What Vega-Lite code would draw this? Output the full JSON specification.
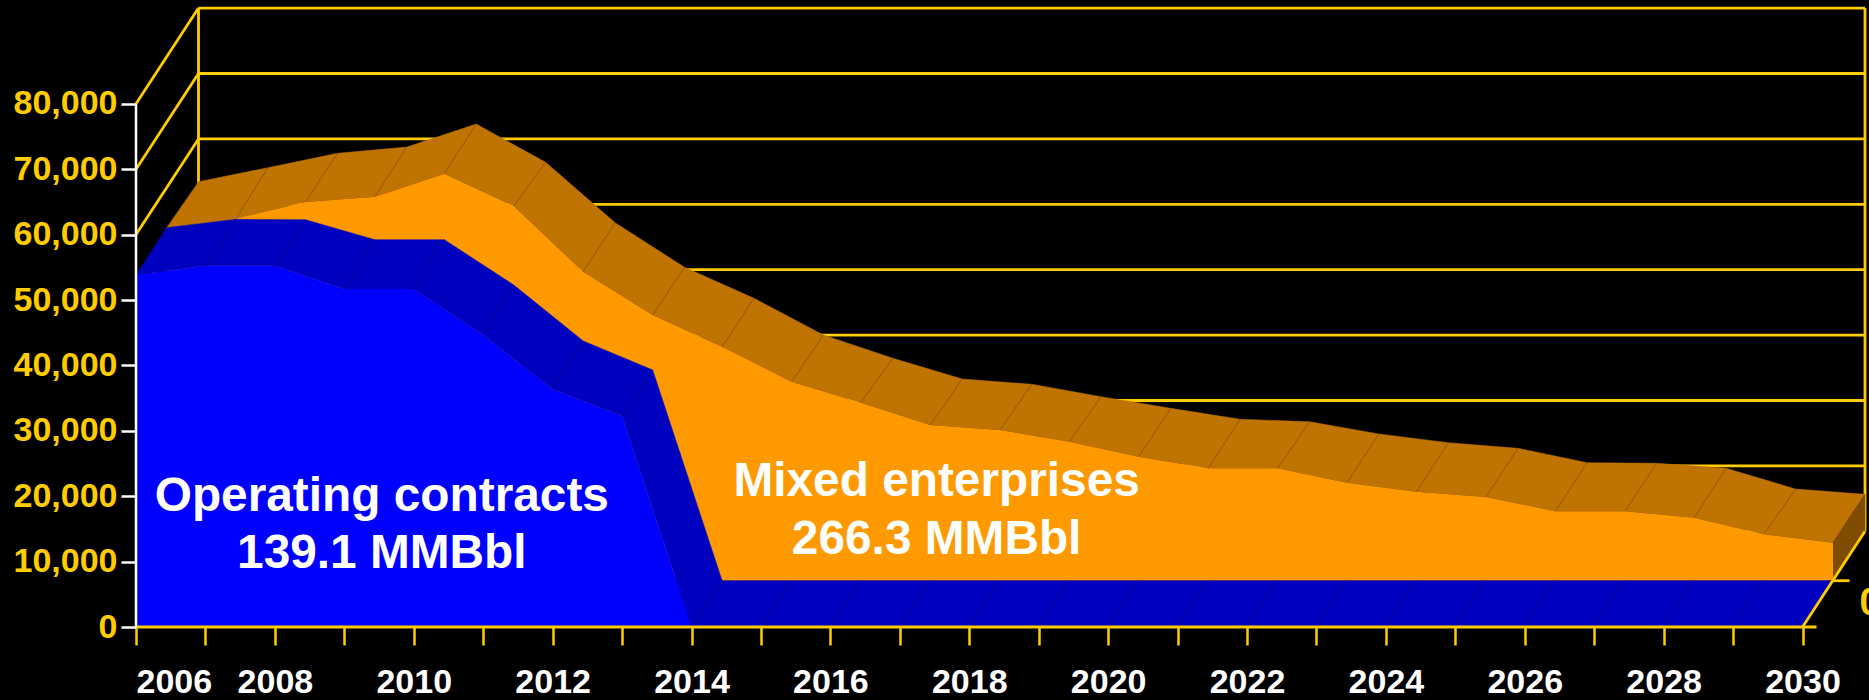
{"$schema":"https://vega.github.io/schema/vega-lite/v6.json","autosize":{"type":"none"},"width":1729,"height":619,"padding":{"left":136,"top":8,"right":4,"bottom":73},"background":"#000000","config":{"view":{"stroke":null},"axis":{"grid":false}},
"datasets":{
"production":[{"year":2006,"contracts":53820,"backContracts":53980,"total":53980,"backTotal":53460},{"year":2007,"contracts":55240,"backContracts":55260,"total":55380,"backTotal":55600},{"year":2008,"contracts":55240,"backContracts":55200,"total":57900,"backTotal":57800},{"year":2009,"contracts":51680,"backContracts":52140,"total":58720,"backTotal":58760},{"year":2010,"contracts":51680,"backContracts":52140,"total":62230,"backTotal":62280},{"year":2011,"contracts":44650,"backContracts":45210,"total":57290,"backTotal":56420},{"year":2012,"contracts":36340,"backContracts":36650,"total":47250,"backTotal":47190},{"year":2013,"contracts":32260,"backContracts":32220,"total":40630,"backTotal":40370},{"year":2014,"contracts":0,"backContracts":0,"total":35780,"backTotal":35630},{"year":2015,"contracts":0,"backContracts":0,"total":30430,"backTotal":30020},{"year":2016,"contracts":0,"backContracts":0,"total":27220,"backTotal":26450},{"year":2017,"contracts":0,"backContracts":0,"total":23810,"backTotal":23290},{"year":2018,"contracts":0,"backContracts":0,"total":23040,"backTotal":22480},{"year":2019,"contracts":0,"backContracts":0,"total":21250,"backTotal":20580},{"year":2020,"contracts":0,"backContracts":0,"total":18960,"backTotal":18810},{"year":2021,"contracts":0,"backContracts":0,"total":17190,"backTotal":17130},{"year":2022,"contracts":0,"backContracts":0,"total":17190,"backTotal":16760},{"year":2023,"contracts":0,"backContracts":0,"total":14990,"backTotal":14880},{"year":2024,"contracts":0,"backContracts":0,"total":13610,"backTotal":13550},{"year":2025,"contracts":0,"backContracts":0,"total":12800,"backTotal":12690},{"year":2026,"contracts":0,"backContracts":0,"total":10610,"backTotal":10490},{"year":2027,"contracts":0,"backContracts":0,"total":10610,"backTotal":10400},{"year":2028,"contracts":0,"backContracts":0,"total":9630,"backTotal":9630},{"year":2029,"contracts":0,"backContracts":0,"total":7090,"backTotal":6470},{"year":2030,"contracts":0,"backContracts":0,"total":5810,"backTotal":5660}],
"faces":[
{"face":"contracts","seq":1,"year":2006,"value":53820,"depth":0},{"face":"contracts","seq":2,"year":2007,"value":55240,"depth":0},{"face":"contracts","seq":3,"year":2008,"value":55240,"depth":0},{"face":"contracts","seq":4,"year":2009,"value":51680,"depth":0},{"face":"contracts","seq":5,"year":2010,"value":51680,"depth":0},{"face":"contracts","seq":6,"year":2011,"value":44650,"depth":0},{"face":"contracts","seq":7,"year":2012,"value":36340,"depth":0},{"face":"contracts","seq":8,"year":2013,"value":32260,"depth":0},{"face":"contracts","seq":9,"year":2014,"value":0,"depth":0},{"face":"contracts","seq":10,"year":2030,"value":0,"depth":0},{"face":"contracts","seq":11,"year":2030,"value":0,"depth":1},{"face":"contracts","seq":12,"year":2014,"value":0,"depth":1},{"face":"contracts","seq":13,"year":2013,"value":32220,"depth":1},{"face":"contracts","seq":14,"year":2012,"value":36650,"depth":1},{"face":"contracts","seq":15,"year":2011,"value":45210,"depth":1},{"face":"contracts","seq":16,"year":2010,"value":52140,"depth":1},{"face":"contracts","seq":17,"year":2009,"value":52140,"depth":1},{"face":"contracts","seq":18,"year":2008,"value":55200,"depth":1},{"face":"contracts","seq":19,"year":2007,"value":55260,"depth":1},{"face":"contracts","seq":20,"year":2006,"value":53980,"depth":1},
{"face":"total","seq":1,"year":2006,"value":53980,"depth":1},{"face":"total","seq":2,"year":2007,"value":55380,"depth":1},{"face":"total","seq":3,"year":2008,"value":57900,"depth":1},{"face":"total","seq":4,"year":2009,"value":58720,"depth":1},{"face":"total","seq":5,"year":2010,"value":62230,"depth":1},{"face":"total","seq":6,"year":2011,"value":57290,"depth":1},{"face":"total","seq":7,"year":2012,"value":47250,"depth":1},{"face":"total","seq":8,"year":2013,"value":40630,"depth":1},{"face":"total","seq":9,"year":2014,"value":35780,"depth":1},{"face":"total","seq":10,"year":2015,"value":30430,"depth":1},{"face":"total","seq":11,"year":2016,"value":27220,"depth":1},{"face":"total","seq":12,"year":2017,"value":23810,"depth":1},{"face":"total","seq":13,"year":2018,"value":23040,"depth":1},{"face":"total","seq":14,"year":2019,"value":21250,"depth":1},{"face":"total","seq":15,"year":2020,"value":18960,"depth":1},{"face":"total","seq":16,"year":2021,"value":17190,"depth":1},{"face":"total","seq":17,"year":2022,"value":17190,"depth":1},{"face":"total","seq":18,"year":2023,"value":14990,"depth":1},{"face":"total","seq":19,"year":2024,"value":13610,"depth":1},{"face":"total","seq":20,"year":2025,"value":12800,"depth":1},{"face":"total","seq":21,"year":2026,"value":10610,"depth":1},{"face":"total","seq":22,"year":2027,"value":10610,"depth":1},{"face":"total","seq":23,"year":2028,"value":9630,"depth":1},{"face":"total","seq":24,"year":2029,"value":7090,"depth":1},{"face":"total","seq":25,"year":2030,"value":5810,"depth":1},
{"face":"total","seq":26,"year":2030,"value":5660,"depth":2},{"face":"total","seq":27,"year":2029,"value":6470,"depth":2},{"face":"total","seq":28,"year":2028,"value":9630,"depth":2},{"face":"total","seq":29,"year":2027,"value":10400,"depth":2},{"face":"total","seq":30,"year":2026,"value":10490,"depth":2},{"face":"total","seq":31,"year":2025,"value":12690,"depth":2},{"face":"total","seq":32,"year":2024,"value":13550,"depth":2},{"face":"total","seq":33,"year":2023,"value":14880,"depth":2},{"face":"total","seq":34,"year":2022,"value":16760,"depth":2},{"face":"total","seq":35,"year":2021,"value":17130,"depth":2},{"face":"total","seq":36,"year":2020,"value":18810,"depth":2},{"face":"total","seq":37,"year":2019,"value":20580,"depth":2},{"face":"total","seq":38,"year":2018,"value":22480,"depth":2},{"face":"total","seq":39,"year":2017,"value":23290,"depth":2},{"face":"total","seq":40,"year":2016,"value":26450,"depth":2},{"face":"total","seq":41,"year":2015,"value":30020,"depth":2},{"face":"total","seq":42,"year":2014,"value":35630,"depth":2},{"face":"total","seq":43,"year":2013,"value":40370,"depth":2},{"face":"total","seq":44,"year":2012,"value":47190,"depth":2},{"face":"total","seq":45,"year":2011,"value":56420,"depth":2},{"face":"total","seq":46,"year":2010,"value":62280,"depth":2},{"face":"total","seq":47,"year":2009,"value":58760,"depth":2},{"face":"total","seq":48,"year":2008,"value":57800,"depth":2},{"face":"total","seq":49,"year":2007,"value":55600,"depth":2},{"face":"total","seq":50,"year":2006,"value":53460,"depth":2},
{"face":"side","seq":1,"year":2030,"value":5810,"depth":1},{"face":"side","seq":2,"year":2030,"value":5660,"depth":2},{"face":"side","seq":3,"year":2030,"value":0,"depth":2},{"face":"side","seq":4,"year":2030,"value":0,"depth":1}],
"grid":[{"v":0},{"v":10000},{"v":20000},{"v":30000},{"v":40000},{"v":50000},{"v":60000},{"v":70000},{"v":80000}],
"notes":[{"label":"Operating contracts","year":2009.54,"value":17780},{"label":"139.1 MMBbl","year":2009.54,"value":9020},{"label":"Mixed enterprises","year":2017.53,"value":20030},{"label":"266.3 MMBbl","year":2017.53,"value":11160}]},
"encoding":{},
"layer":[
{"data":{"name":"grid"},"mark":{"type":"rule","color":"#FFCC00","strokeWidth":2.8,"xOffset":62.5,"x2Offset":62.5,"yOffset":-95.7},"encoding":{"x":{"datum":2006,"type":"quantitative","scale":{"domain":[2006,2030.9],"nice":false,"zero":false},"axis":{"values":[2006,2007,2008,2009,2010,2011,2012,2013,2014,2015,2016,2017,2018,2019,2020,2021,2022,2023,2024,2025,2026,2027,2028,2029,2030],"title":null,"domain":false,"tickColor":"#FFCC00","tickWidth":2.5,"tickSize":18,"labelColor":"#FFFFFF","labelFont":"Liberation Sans","labelFontWeight":"bold","labelFontSize":34,"labelPadding":47,"labelOverlap":false,"labelExpr":"datum.value % 2 == 0 ? format(datum.value,'d') : ''","labelBaseline":"alphabetic"}},"x2":{"datum":2030},"y":{"field":"v","type":"quantitative","scale":{"domain":[0,94650],"nice":false},"axis":{"values":[0,10000,20000,30000,40000,50000,60000,70000,80000],"labelExpr":"format(datum.value,',')","title":null,"domain":false,"tickColor":"#FFFFFF","tickWidth":2.5,"tickSize":15,"labelColor":"#FFCC00","labelFont":"Liberation Sans","labelFontWeight":"bold","labelFontSize":34,"labelPadding":4,"labelOverlap":false}}}},
{"data":{"name":"grid"},"mark":{"type":"rule","color":"#FFCC00","strokeWidth":2.8,"x2Offset":62.5,"y2Offset":-95.7},"encoding":{"x":{"datum":2006,"type":"quantitative"},"x2":{"datum":2006},"y":{"field":"v","type":"quantitative"},"y2":{"field":"v"}}},
{"data":{"values":[{"at":2006},{"at":2030}]},"mark":{"type":"rule","color":"#FFCC00","strokeWidth":2.8,"xOffset":62.5,"yOffset":-95.7,"y2Offset":-95.7},"encoding":{"x":{"field":"at","type":"quantitative"},"y":{"datum":0,"type":"quantitative"},"y2":{"datum":80000}}},
{"data":{"name":"faces"},"transform":[{"filter":"datum.face=='total'"},{"calculate":"datum.year+[0,0.4407,0.9][datum.depth]","as":"depthYear"},{"calculate":"datum.value+[0,7080,14633][datum.depth]","as":"depthValue"}],"mark":{"type":"line","fill":"#BF7300","stroke":"#BF7300","strokeWidth":0.5},"encoding":{"x":{"field":"depthYear","type":"quantitative"},"y":{"field":"depthValue","type":"quantitative"},"order":{"field":"seq"}}},
{"data":{"name":"faces"},"transform":[{"filter":"datum.face=='side'"},{"calculate":"datum.year+[0,0.4407,0.9][datum.depth]","as":"depthYear"},{"calculate":"datum.value+[0,7080,14633][datum.depth]","as":"depthValue"}],"mark":{"type":"line","fill":"#7F4C00","stroke":"#7F4C00","strokeWidth":0.5},"encoding":{"x":{"field":"depthYear","type":"quantitative"},"y":{"field":"depthValue","type":"quantitative"},"order":{"field":"seq"}}},
{"data":{"name":"production"},"mark":{"type":"rule","color":"#7F4C00","strokeWidth":0.7,"xOffset":30.6,"yOffset":-46.3,"x2Offset":62.5,"y2Offset":-95.7},"encoding":{"x":{"field":"year","type":"quantitative"},"x2":{"field":"year"},"y":{"field":"total","type":"quantitative"},"y2":{"field":"backTotal"}}},
{"data":{"name":"production"},"mark":{"type":"area","color":"#FF9900","xOffset":30.6,"x2Offset":30.6,"yOffset":-46.3,"y2Offset":-46.3},"encoding":{"x":{"field":"year","type":"quantitative"},"y":{"field":"total","type":"quantitative"},"y2":{"datum":0}}},
{"data":{"name":"faces"},"transform":[{"filter":"datum.face=='contracts'"},{"calculate":"datum.year+[0,0.4407,0.9][datum.depth]","as":"depthYear"},{"calculate":"datum.value+[0,7080,14633][datum.depth]","as":"depthValue"}],"mark":{"type":"line","fill":"#0000BF","stroke":"#0000BF","strokeWidth":0.5},"encoding":{"x":{"field":"depthYear","type":"quantitative"},"y":{"field":"depthValue","type":"quantitative"},"order":{"field":"seq"}}},
{"data":{"name":"production"},"mark":{"type":"rule","color":"#000080","strokeWidth":0.8,"x2Offset":30.6,"y2Offset":-46.3},"encoding":{"x":{"field":"year","type":"quantitative"},"x2":{"field":"year"},"y":{"field":"contracts","type":"quantitative"},"y2":{"field":"backContracts"}}},
{"data":{"name":"production"},"mark":{"type":"area","color":"#0000FF"},"encoding":{"x":{"field":"year","type":"quantitative"},"y":{"field":"contracts","type":"quantitative"},"y2":{"datum":0}}},
{"data":{"name":"notes"},"mark":{"type":"text","font":"Liberation Sans","fontWeight":"bold","fontSize":47.8,"color":"#FFFFFF","align":"center","baseline":"alphabetic"},"encoding":{"x":{"field":"year","type":"quantitative"},"y":{"field":"value","type":"quantitative"},"text":{"field":"label"}}},
{"data":{"values":[{"from":2006,"to":2030}]},"mark":{"type":"rule","color":"#FFCC00","strokeWidth":2.8,"x2Offset":14},"encoding":{"x":{"field":"from","type":"quantitative"},"x2":{"field":"to"},"y":{"datum":0,"type":"quantitative"}}},
{"data":{"values":[{"at":2030,"level":0}]},"mark":{"type":"rule","color":"#FFCC00","strokeWidth":2.8,"x2Offset":62.5,"y2Offset":-95.7},"encoding":{"x":{"field":"at","type":"quantitative"},"x2":{"field":"at"},"y":{"field":"level","type":"quantitative"},"y2":{"field":"level"}}},
{"data":{"values":[{"at":2030,"level":0}]},"mark":{"type":"rule","color":"#FFCC00","strokeWidth":2.8,"xOffset":30.6,"x2Offset":47,"yOffset":-46.3},"encoding":{"x":{"field":"at","type":"quantitative"},"x2":{"field":"at"},"y":{"field":"level","type":"quantitative"}}},
{"data":{"values":[{"at":2006,"low":0,"high":80000}]},"mark":{"type":"rule","color":"#FFFFFF","strokeWidth":2.5},"encoding":{"x":{"field":"at","type":"quantitative"},"y":{"field":"low","type":"quantitative"},"y2":{"field":"high"}}},
{"data":{"values":[{"label":"0","at":2030,"level":0}]},"mark":{"type":"text","font":"Liberation Sans","fontWeight":"bold","fontSize":38,"color":"#FFCC00","align":"left","baseline":"alphabetic","dx":57,"dy":-12},"encoding":{"x":{"field":"at","type":"quantitative"},"y":{"field":"level","type":"quantitative"},"text":{"field":"label"}}}
]}
